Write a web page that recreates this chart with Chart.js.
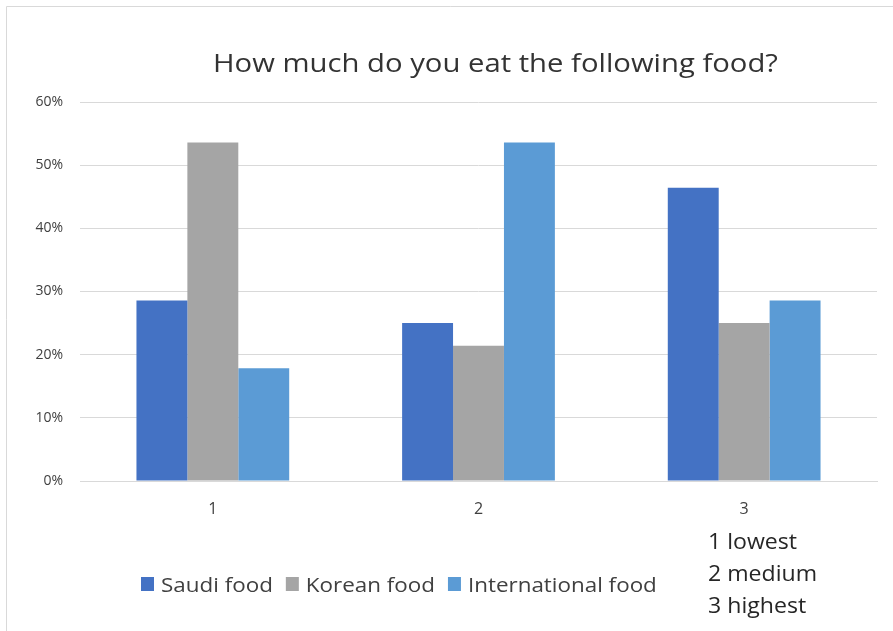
<!DOCTYPE html>
<html>
<head>
<meta charset="utf-8">
<script src="https://cdn.jsdelivr.net/npm/chart.js@4/dist/chart.umd.min.js"></script>
<style>
  html, body { margin: 0; padding: 0; background: #fff; }
  #wrap { width: 893px; height: 631px; position: relative; }
</style>
</head>
<body>
<div id="wrap"><canvas id="grafico" width="893" height="631"></canvas></div>
<script>
// dados (share of answers, %)
const categorias = ['1', '2', '3'];
const comidaSaudita = [28.57, 25.0, 46.43];
const comidaCoreana = [53.57, 21.43, 25.0];
const comidaInternacional = [17.86, 53.57, 28.57];
const rotulosEscala = ['0%', '10%', '20%', '30%', '40%', '50%', '60%'];
const titulo = 'How much do you eat the following food?';
const notas = ['1 lowest', '2 medium', '3 highest'];

const CORES = { saudi: '#4472C4', korean: '#A5A5A5', intl: '#5B9BD5' };

// texto esticado na horizontal até a largura pedida
function textoLargura(ctx, texto, x, y, largura) {
    const w = ctx.measureText(texto).width;
    ctx.save();
    ctx.translate(x, y);
    ctx.scale(largura / w, 1);
    ctx.fillText(texto, 0, 0);
    ctx.restore();
}

// title, legend and side note drawn by hand so they sit where the original has them
const textosExtras = {
    id: 'textosExtras',
    beforeDraw(chart) {
        const ctx = chart.ctx;
        ctx.save();
        ctx.strokeStyle = '#d9d9d9';
        ctx.lineWidth = 1;
        ctx.beginPath();
        ctx.moveTo(6.5, 640); ctx.lineTo(6.5, 6.5); ctx.lineTo(900, 6.5);
        ctx.stroke();
        ctx.restore();
    },
    afterDraw(chart) {
        const ctx = chart.ctx;
        ctx.save();
        // title
        ctx.fillStyle = '#333333';
        ctx.font = '26px "Open Sans"';
        ctx.textAlign = 'left';
        ctx.textBaseline = 'alphabetic';
        textoLargura(ctx, titulo, 213, 72, 565);

        // legend
        ctx.font = '20px "Open Sans"';
        const esticar = 1.12;
        let x = 141;
        chart.data.datasets.forEach(ds => {
            ctx.fillStyle = ds.backgroundColor;
            ctx.fillRect(x, 577, 13, 14);
            ctx.fillStyle = '#404040';
            const w = ctx.measureText(ds.label).width * esticar;
            textoLargura(ctx, ds.label, x + 20, 592, w);
            x += 20 + w + 13;
        });

        // note under category 3
        ctx.font = '22px "Open Sans"';
        ctx.fillStyle = '#262626';
        notas.forEach((n, i) => textoLargura(ctx, n, 708, 549 + i * 32, ctx.measureText(n).width * 1.05));
        ctx.restore();
    }
};

new Chart(document.getElementById('grafico'), {
    type: 'bar',
    data: {
        labels: categorias,
        datasets: [
            { label: 'Saudi food', data: comidaSaudita, backgroundColor: CORES.saudi },
            { label: 'Korean food', data: comidaCoreana, backgroundColor: CORES.korean },
            { label: 'International food', data: comidaInternacional, backgroundColor: CORES.intl }
        ]
    },
    options: {
        responsive: false,
        animation: false,
        layout: { padding: { top: 102, bottom: 100, left: 0, right: 16 } },
        datasets: { bar: { barPercentage: 1, categoryPercentage: 0.575 } },
        plugins: { legend: { display: false }, title: { display: false }, tooltip: { enabled: false } },
        scales: {
            x: {
                afterFit: s => { s.height = 50; },
                grid: { display: false },
                border: { color: '#d9d9d9', width: 1 },
                ticks: { color: '#404040', font: { family: 'Open Sans', size: 16 }, padding: 11 }
            },
            y: {
                min: 0, max: 60,
                afterFit: s => { s.width = 80; },
                border: { display: false },
                grid: { color: '#d9d9d9', drawTicks: false },
                ticks: {
                    stepSize: 10,
                    padding: 17,
                    color: '#404040',
                    font: { family: 'Open Sans', size: 14 },
                    callback: (v, i) => rotulosEscala[i]
                }
            }
        }
    },
    plugins: [textosExtras]
});
</script>
</body>
</html>
